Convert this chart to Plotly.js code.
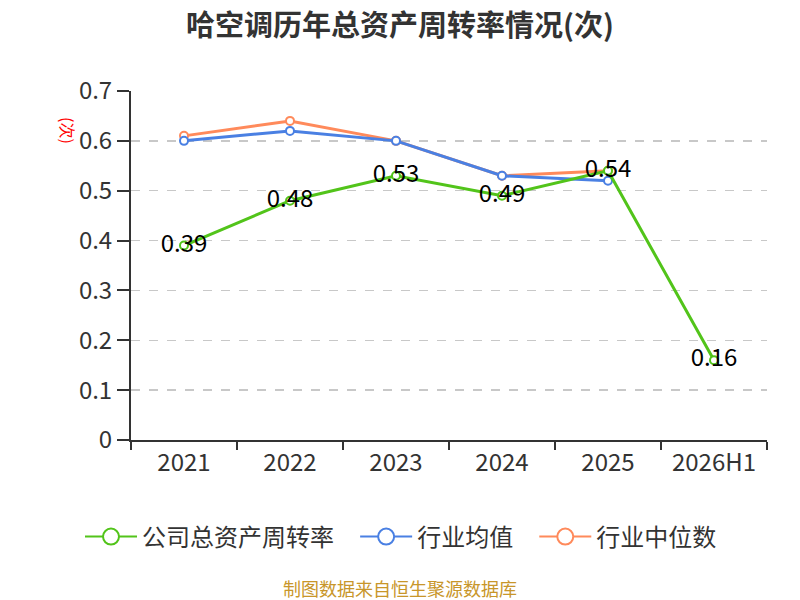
<!DOCTYPE html>
<html>
<head>
<meta charset="utf-8">
<script src="https://cdn.plot.ly/plotly-3.0.1.min.js"></script>
<style>
  html, body { margin: 0; padding: 0; background: #fff; }
  #chart { width: 800px; height: 600px; }
</style>
</head>
<body>
<div id="chart"></div>
<script>
// 年份
var years = ['2021', '2022', '2023', '2024', '2025', '2026H1'];
// 公司总资产周转率
var company = [0.39, 0.48, 0.53, 0.49, 0.54, 0.16];
// 行业均值 (2026H1 无数据)
var industryAvg = [0.60, 0.62, 0.60, 0.53, 0.52, null];
// 行业中位数
var industryMedian = [0.61, 0.64, 0.60, 0.53, 0.54, null];

var green = '#52c41a';
var blue = '#4a80e3';
var orange = '#ff8a5b';
var font = '"Noto Sans CJK SC", "Noto Sans", sans-serif';

function series(name, y, color, withText) {
  var t = {
    x: years,
    y: y,
    name: name,
    type: 'scatter',
    mode: withText ? 'lines+markers+text' : 'lines+markers',
    line: { color: color, width: 3 },
    marker: { size: 8, color: '#fff', line: { color: color, width: 2 } },
    showlegend: false,
    hoverinfo: 'x+y'
  };
  if (withText) {
    t.text = y.map(function (v) { return v.toFixed(2); });
    t.textposition = 'middle center';
    t.textfont = { family: font, size: 24, color: '#000' };
  }
  return t;
}

// legend-only entries with bigger circles (trailing spaces widen the gap)
function legendItem(name, color) {
  return {
    x: [null], y: [null],
    name: name + '&nbsp;&nbsp;&nbsp;',
    type: 'scatter',
    mode: 'lines+markers',
    line: { color: color, width: 2 },
    marker: { size: 20, color: '#fff', line: { color: color, width: 2 } },
    hoverinfo: 'skip'
  };
}

var data = [
  series('行业中位数', industryMedian, orange, false),
  series('行业均值', industryAvg, blue, false),
  series('公司总资产周转率', company, green, true),
  legendItem('公司总资产周转率', green),
  legendItem('行业均值', blue),
  legendItem('行业中位数', orange)
];

var layout = {
  width: 800,
  height: 600,
  margin: { l: 131, r: 33, t: 91, b: 160 },
  paper_bgcolor: '#fff',
  plot_bgcolor: '#fff',
  font: { family: font, color: '#333' },
  title: {
    text: '<b>哈空调历年总资产周转率情况(次)</b>',
    x: 0.5, xanchor: 'center',
    y: 0.957, yanchor: 'middle',
    font: { family: font, size: 29, color: '#333' }
  },
  xaxis: {
    type: 'category',
    range: [-0.5, 5.5],
    showgrid: false,
    showline: true,
    linecolor: '#333',
    linewidth: 2,
    ticks: 'outside',
    tickson: 'boundaries',
    ticklen: 8,
    tickwidth: 2,
    tickcolor: '#333',
    tickfont: { family: font, size: 24, color: '#333' },
    zeroline: false,
    fixedrange: true
  },
  yaxis: {
    range: [0, 0.7],
    dtick: 0.1,
    tickformat: '.1~f',
    showgrid: true,
    gridcolor: '#c8c8c8',
    griddash: 'dash',
    gridwidth: 1.5,
    showline: true,
    linecolor: '#333',
    linewidth: 2,
    ticks: 'outside',
    ticklen: 12,
    tickwidth: 2,
    tickcolor: '#333',
    tickfont: { family: font, size: 24, color: '#333' },
    zeroline: false,
    fixedrange: true
  },
  legend: {
    orientation: 'h',
    x: (80 - 131) / 636, xanchor: 'left',
    y: -0.278, yanchor: 'middle',
    font: { family: font, size: 24, color: '#333' },
    itemwidth: 52,
    traceorder: 'normal'
  },
  annotations: [
    {
      text: '(次)',
      xref: 'paper', yref: 'paper',
      x: -0.099, y: 0.888,
      xanchor: 'center', yanchor: 'middle',
      textangle: 90,
      showarrow: false,
      font: { family: font, size: 16, color: '#ff0000' }
    },
    {
      text: '制图数据来自恒生聚源数据库',
      xref: 'paper', yref: 'paper',
      x: (400 - 131) / 636, y: (440 - 588) / 349,
      xanchor: 'center', yanchor: 'middle',
      showarrow: false,
      font: { family: font, size: 18, color: '#c8962a' }
    }
  ]
};

Plotly.newPlot('chart', data, layout, { displayModeBar: false, staticPlot: true });
</script>
</body>
</html>
